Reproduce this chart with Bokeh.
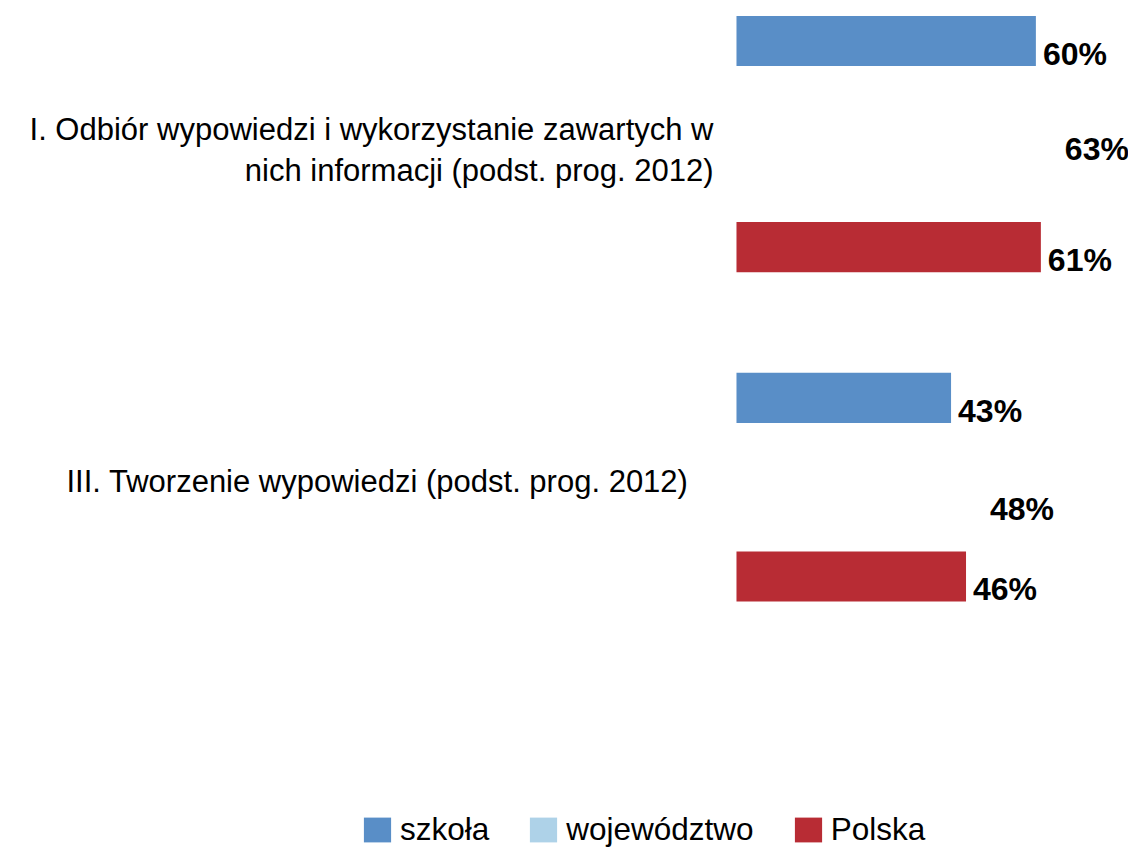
from bokeh.plotting import figure
from bokeh.models import Range1d, Legend, LegendItem, ColumnDataSource
from bokeh.core.properties import value
from bokeh.embed import file_html
from bokeh.resources import INLINE

# ---------------- data ----------------
categories = [
    "I. Odbiór wypowiedzi i wykorzystanie zawartych w\nnich informacji (podst. prog. 2012)",
    "III. Tworzenie wypowiedzi (podst. prog. 2012)",
]
series_names = ["szkoła", "województwo", "Polska"]
szkola = [60, 43]
wojewodztwo = [63, 48]
polska = [61, 46]

# ---------------- style / layout ----------------
colors = ["#598EC7", "#AED2E8", "#B82C34"]
bar_alpha = [1.0, 0.0, 1.0]          # województwo bars are not visible in the reference
label_offsets = [7, 14, 7]
# row offset of each series within its category band (per category, as in the reference)
row_offsets = [[-0.300, -0.022, 0.300],
               [-0.261, 0.026, 0.259]]
bar_height = 0.146
cat_label_dx = [-23, -48]
cat_label_dy = [6, -6]
FONT = "Liberation Sans"

p = figure(
    width=1128, height=866,
    x_range=Range1d(-147.49, 78.56),
    y_range=Range1d(2.1033, -0.4178),
    output_backend="svg", toolbar_location=None,
    min_border=0, outline_line_color=None,
)
p.xaxis.visible = False
p.yaxis.visible = False
p.xgrid.visible = False
p.ygrid.visible = False

cat_idx = list(range(len(categories)))
renderers = []
for i, (name, vals) in enumerate(zip(series_names, [szkola, wojewodztwo, polska])):
    ys = [c + row_offsets[c][i] for c in cat_idx]
    src = ColumnDataSource(dict(
        y=ys,
        right=vals,
        label=[f"{v}%" for v in vals],
    ))
    r = p.hbar(y="y", left=0, right="right", height=bar_height, source=src,
               fill_color=colors[i], line_color=None,
               muted_fill_color=colors[i], muted_fill_alpha=bar_alpha[i],
               muted_line_alpha=0)
    # muted state carries the on-chart look (województwo invisible); legend shows the colour
    r.muted = True
    p.text(x="right", y="y", text="label", source=src,
           x_offset=label_offsets[i], y_offset=13, text_align="left", text_baseline="middle",
           text_font=value(FONT), text_font_style="bold", text_font_size="32px",
           text_color="#000000")
    renderers.append(r)

# category labels
cat_src = ColumnDataSource(dict(x=[0] * len(categories), y=cat_idx, text=categories,
                                dx=cat_label_dx, dy=cat_label_dy))
p.text(x="x", y="y", text="text", source=cat_src,
       x_offset="dx", y_offset="dy", text_align="right", text_baseline="middle",
       text_font=value(FONT), text_font_size="31px", text_line_height=1.18,
       text_color="#000000")

legend = Legend(
    items=[LegendItem(label=n, renderers=[r]) for n, r in zip(series_names, renderers)],
    orientation="horizontal", location=(360, 18),
    padding=0, margin=0, spacing=37, label_standoff=6,
    glyph_width=34, glyph_height=31,
    label_text_font=FONT, label_text_font_size="31.5px", label_text_color="#000000",
    border_line_color=None, background_fill_alpha=0,
    inactive_fill_alpha=0,
)
p.add_layout(legend)

open("out.html", "w").write(file_html(p, INLINE))
